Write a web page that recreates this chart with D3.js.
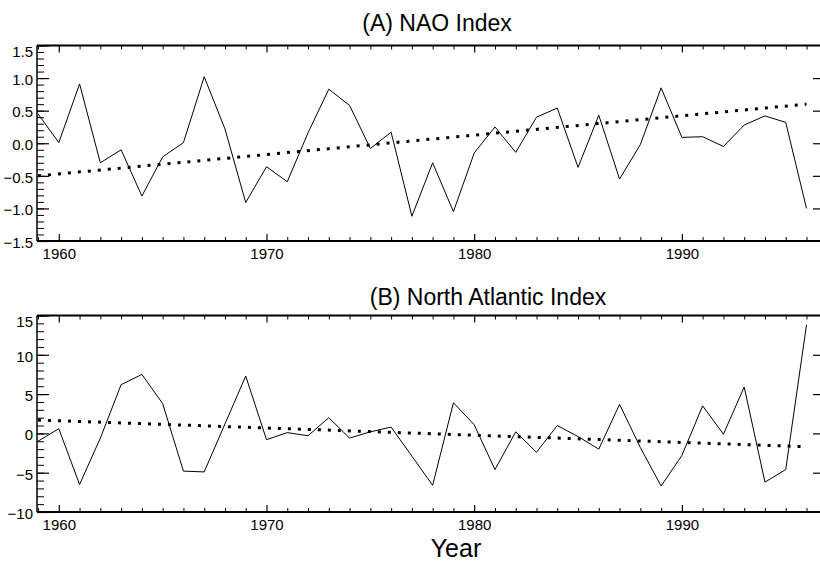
<!DOCTYPE html>
<html>
<head>
<meta charset="utf-8">
<script src="https://cdn.jsdelivr.net/npm/d3@7"></script>
<style>
  body { margin: 0; background: #fff; }
  text { font-family: "Liberation Sans", Arial, sans-serif; fill: #000; }
</style>
</head>
<body>
<div id="chart"></div>
<script>
// data
const years = [1959, 1960, 1961, 1962, 1963, 1964, 1965, 1966, 1967, 1968,
               1969, 1970, 1971, 1972, 1973, 1974, 1975, 1976, 1977, 1978,
               1979, 1980, 1981, 1982, 1983, 1984, 1985, 1986, 1987, 1988,
               1989, 1990, 1991, 1992, 1993, 1994, 1995, 1996]
const naoIndex = [0.45, 0.01, 0.91, -0.30, -0.10, -0.81, -0.21, 0.01, 1.02, 0.22,
                  -0.91, -0.36, -0.59, 0.16, 0.83, 0.58, -0.08, 0.17, -1.12, -0.30,
                  -1.05, -0.15, 0.25, -0.14, 0.40, 0.54, -0.37, 0.43, -0.55, -0.02,
                  0.85, 0.09, 0.10, -0.05, 0.28, 0.42, 0.32, -1.00]
const naIndex = [-1.0, 0.6, -6.5, -0.6, 6.2, 7.5, 3.8, -4.8, -4.9, 1.2,
                 7.3, -0.8, 0.1, -0.3, 2.0, -0.6, 0.2, 0.8, -2.9, -6.6,
                 3.9, 1.1, -4.6, 0.2, -2.4, 1.0, -0.4, -2.0, 3.7, -1.8,
                 -6.7, -2.8, 3.5, -0.1, 5.9, -6.2, -4.6, 13.8]
// linear trend end points
const trendYears = [1959, 1996]
const naoTrend = [-0.50, 0.60]
const naTrend = [1.7, -1.7]
// axis ticks
const xMajorTicks = [1960, 1970, 1980, 1990]
const naoTicks = [-1.5, -1.0, -0.5, 0.0, 0.5, 1.0, 1.5]
const naTicks = [-10, -5, 0, 5, 10, 15]

const width = 820, height = 561
const left = 37, right = 820

const svg = d3.select("#chart").append("svg")
    .attr("width", width)
    .attr("height", height)

const x = d3.scaleLinear().domain([1958.95, 1996.65]).range([left, right])

const panels = [
  { title: "(A) NAO Index", titleX: 437, titleY: 31, top: 45.5, bottom: 241,
    domain: [-1.5, 1.5], ticks: naoTicks, minorStep: 0.1, fmt: d3.format(".1f"),
    values: naoIndex, trend: naoTrend },
  { title: "(B) North Atlantic Index", titleX: 488, titleY: 305, top: 315.5, bottom: 512,
    domain: [-10, 15], ticks: naTicks, minorStep: 1, fmt: d3.format("d"),
    values: naIndex, trend: naTrend }
]

panels.forEach(function(p) {
  const y = d3.scaleLinear().domain(p.domain).range([p.bottom, p.top])
  const g = svg.append("g")

  // title
  g.append("text")
    .attr("x", p.titleX).attr("y", p.titleY)
    .attr("text-anchor", "middle")
    .style("font-size", "23px")
    .text(p.title)

  // minor y ticks (left side only)
  const minor = d3.range(Math.round((p.domain[1] - p.domain[0]) / p.minorStep) + 1)
    .map(i => p.domain[0] + i * p.minorStep)
  g.append("g")
    .attr("transform", `translate(${left},0)`)
    .call(d3.axisLeft(y).tickValues(minor).tickSize(-7).tickFormat(""))
    .call(s => s.select(".domain").remove())
    .selectAll("line").attr("stroke", "#000").attr("stroke-width", 1)

  // major y ticks with labels
  const yAxis = g.append("g")
    .attr("transform", `translate(${left},0)`)
    .call(d3.axisLeft(y).tickValues(p.ticks).tickSize(-12).tickPadding(4).tickFormat(p.fmt))
  yAxis.select(".domain").remove()
  yAxis.selectAll("line").attr("stroke", "#000").attr("stroke-width", 1.2)
  yAxis.selectAll("text")
    .style("font-size", "15px")
    .attr("dy", function(d) { return d === p.domain[1] ? "0.7em" : "0.42em" })

  // right side ticks
  g.append("g")
    .attr("transform", `translate(${right},0)`)
    .call(d3.axisRight(y).tickValues(p.ticks.slice(1, -1)).tickSize(-7).tickFormat(""))
    .call(s => s.select(".domain").remove())
    .selectAll("line").attr("stroke", "#000").attr("stroke-width", 1.2)

  // x ticks bottom and top, every year, long at decades
  const minorYears = years.filter(d => xMajorTicks.indexOf(d) < 0)
  ;[[p.bottom, d3.axisBottom, -1], [p.top, d3.axisTop, 1]].forEach(function(cfg) {
    const ax = g.append("g").attr("transform", `translate(0,${cfg[0]})`)
    ax.append("g")
      .call(cfg[1](x).tickValues(minorYears).tickSize(-4).tickFormat(""))
      .call(s => s.select(".domain").remove())
      .selectAll("line").attr("stroke", "#000")
    const major = ax.append("g")
      .call(cfg[1](x).tickValues(xMajorTicks).tickSize(-7).tickPadding(7)
        .tickFormat(cfg[2] < 0 ? d3.format("d") : ""))
    major.select(".domain").remove()
    major.selectAll("line").attr("stroke", "#000").attr("stroke-width", 1.2)
    major.selectAll("text").style("font-size", "15px")
  })

  // frame
  g.append("line").attr("x1", left).attr("x2", right).attr("y1", p.top).attr("y2", p.top)
    .attr("stroke", "#000").attr("stroke-width", 2)
  g.append("line").attr("x1", left).attr("x2", right).attr("y1", p.bottom).attr("y2", p.bottom)
    .attr("stroke", "#000").attr("stroke-width", 2)
  g.append("line").attr("x1", left).attr("x2", left).attr("y1", p.top).attr("y2", p.bottom)
    .attr("stroke", "#000").attr("stroke-width", 1.5)

  // data line
  const series = years.map((yr, i) => ({ year: yr, value: p.values[i] }))
  g.append("path")
    .datum(series)
    .attr("fill", "none")
    .attr("stroke", "#000")
    .attr("stroke-width", 1)
    .attr("d", d3.line()
      .x(d => x(d.year))
      .y(d => y(d.value)))

  // dotted trend
  const trend = trendYears.map((yr, i) => ({ year: yr, value: p.trend[i] }))
  g.append("path")
    .datum(trend)
    .attr("fill", "none")
    .attr("stroke", "#000")
    .attr("stroke-width", 3)
    .attr("stroke-dasharray", "3 7")
    .attr("d", d3.line()
      .x(d => x(d.year))
      .y(d => y(d.value)))
})

// x axis title
svg.append("text")
  .attr("x", 456).attr("y", 557)
  .attr("text-anchor", "middle")
  .style("font-size", "25px")
  .text("Year")
</script>
</body>
</html>
